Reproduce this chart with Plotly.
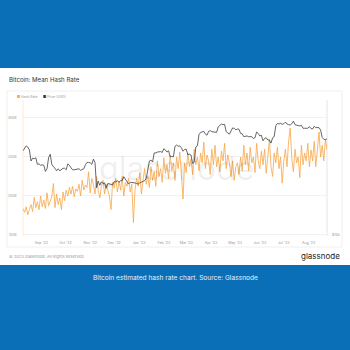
import pandas as pd
import plotly.graph_objects as go

# Daily series sampled every second day, 9 Aug 2022 -> 24 Aug 2023
dates = pd.date_range("2022-08-09", periods=191, freq="2D")

# Mean hash rate (EH/s)
hash_rate = [
    168, 158, 172, 152, 165, 178, 160, 196, 170, 185,
    165, 200, 172, 190, 168, 208, 175, 185, 198, 232,
    170, 205, 178, 195, 165, 210, 188, 215, 200, 222,
    205, 225, 198, 218, 212, 230, 200, 240, 215, 228,
    222, 262, 208, 245, 230, 205, 250, 215, 195, 225,
    240, 205, 230, 215, 200, 165, 235, 220, 245, 210,
    238, 215, 250, 200, 235, 225, 245, 210, 230, 132,
    215, 245, 225, 260, 205, 240, 270, 230, 250, 222,
    275, 240, 262, 225, 290, 250, 270, 235, 298, 258,
    280, 245, 305, 265, 285, 240, 300, 270, 312, 255,
    192, 285, 260, 310, 275, 295, 255, 320, 280, 300,
    265, 310, 285, 338, 270, 305, 290, 255, 320, 280,
    330, 275, 300, 262, 315, 290, 335, 270, 305, 285,
    250, 290, 240, 275, 285, 255, 300, 265, 330, 280,
    310, 265, 325, 285, 300, 260, 335, 290, 270, 315,
    280, 320, 258, 300, 345, 275, 250, 310, 285, 325,
    270, 300, 233, 290, 320, 275, 340, 374, 295, 262,
    320, 285, 300, 247, 330, 280, 310, 290, 335, 275,
    318, 290, 340, 275, 325, 364, 300, 330, 290, 345, 318,
]

# BTC price (thousand USD)
price_k = [
    23.2, 24.0, 24.4, 24.1, 23.4, 20.9, 21.5, 21.4, 21.6, 20.2,
    20.3, 20.0, 20.1, 20.0, 18.8, 19.3, 21.6, 22.4, 20.2, 19.7,
    19.4, 18.9, 19.3, 18.9, 19.2, 19.4, 19.4, 19.1, 20.3, 20.0,
    19.5, 19.1, 19.1, 19.2, 19.3, 19.3, 19.0, 19.2, 19.3, 20.1,
    20.6, 20.6, 20.5, 20.2, 21.3, 20.6, 15.9, 17.0, 16.3, 16.9,
    16.6, 16.7, 15.8, 16.6, 16.5, 16.5, 16.4, 16.9, 16.9, 17.1,
    16.8, 17.1, 17.1, 17.8, 17.4, 16.8, 16.5, 16.8, 16.8, 16.8,
    16.7, 16.6, 16.5, 16.7, 16.8, 16.9, 17.1, 17.4, 18.8, 20.9,
    21.1, 20.7, 22.7, 22.7, 22.9, 23.0, 23.0, 22.8, 23.7, 23.4,
    22.9, 23.2, 21.8, 21.9, 21.8, 24.3, 24.6, 24.3, 24.4, 23.9,
    23.1, 23.5, 23.6, 22.3, 22.4, 22.2, 20.4, 20.6, 24.1, 24.4,
    27.4, 28.0, 28.2, 28.3, 27.5, 27.2, 28.3, 28.5, 28.2, 28.2,
    28.0, 28.0, 29.6, 30.0, 30.5, 30.3, 30.4, 28.2, 27.8, 27.5,
    28.4, 29.3, 29.2, 28.7, 29.0, 28.9, 27.7, 27.6, 26.8, 26.9,
    27.0, 26.8, 26.9, 26.8, 26.3, 26.5, 28.1, 27.7, 27.0, 27.2,
    25.7, 26.3, 26.5, 25.9, 25.9, 25.1, 26.5, 26.8, 30.0, 30.7,
    30.5, 30.7, 30.4, 30.6, 31.1, 30.5, 30.3, 30.2, 30.6, 31.4,
    30.3, 30.1, 29.9, 29.9, 30.1, 29.2, 29.2, 29.3, 29.2, 29.7,
    29.1, 29.0, 29.8, 29.4, 29.4, 29.4, 28.7, 26.6, 26.1, 26.0, 26.2,
]
price = [p * 1000 for p in price_k]

month_ticks = pd.date_range("2022-09-01", "2023-08-01", freq="MS")
month_labels = ["Sep '22", "Oct '22", "Nov '22", "Dec '22", "Jan '23", "Feb '23",
                "Mar '23", "Apr '23", "May '23", "Jun '23", "Jul '23", "Aug '23"]
hash_ticks = [100, 200, 300, 400]
hash_labels = ["100E", "200E", "300E", "400E"]

W = H = 350
BLUE = "#0B6FB8"
ORANGE = "#F8A647"
FONT = "Inter"


def fx(px):
    return px / W


def fy(py):
    return 1 - py / H


fig = go.Figure()
fig.add_trace(go.Scatter(x=dates, y=hash_rate, mode="lines", name="Hash Rate",
                         line=dict(color=ORANGE, width=0.8), yaxis="y", cliponaxis=True))
fig.add_trace(go.Scatter(x=dates, y=price, mode="lines", name="Price (USD)",
                         line=dict(color="#404040", width=0.8), yaxis="y2", cliponaxis=True))

shapes = [
    # white card
    dict(type="rect", xref="paper", yref="paper", x0=0, x1=1, y0=fy(265), y1=fy(68),
         fillcolor="white", line=dict(width=0), layer="below"),
    # chart panel
    dict(type="rect", xref="paper", yref="paper", x0=fx(7), x1=fx(342), y0=fy(247), y1=fy(91),
         fillcolor="white", line=dict(color="#ececec", width=0.8), layer="below"),
    # left (hash rate) and right (price) axis rules
    dict(type="line", xref="paper", yref="paper", x0=fx(23), x1=fx(23), y0=fy(236), y1=fy(100),
         line=dict(color="#FCE3C4", width=0.8), layer="below"),
    dict(type="line", xref="paper", yref="paper", x0=fx(327), x1=fx(327), y0=fy(236), y1=fy(100),
         line=dict(color="#dedede", width=0.8), layer="below"),
]

annotations = [
    dict(text="Bitcoin: Mean Hash Rate", x=fx(7), y=fy(80), xref="paper", yref="paper",
         xanchor="left", yanchor="middle", showarrow=False,
         font=dict(family=FONT, size=6.1, color="#333333")),
    dict(text=f"<span style='color:{ORANGE}'>■</span> Hash Rate", x=fx(15), y=fy(97),
         xref="paper", yref="paper", xanchor="left", yanchor="middle", showarrow=False,
         font=dict(family=FONT, size=3.4, color="#999999")),
    dict(text="<span style='color:#333333'>■</span> Price (USD)", x=fx(41), y=fy(97),
         xref="paper", yref="paper", xanchor="left", yanchor="middle", showarrow=False,
         font=dict(family=FONT, size=3.4, color="#999999")),
    dict(text="glassnode", x=fx(176), y=fy(168), xref="paper", yref="paper",
         xanchor="center", yanchor="middle", showarrow=False,
         font=dict(family=FONT, size=32, color="rgba(0,0,0,0.07)")),
    dict(text="$10k", x=fx(330), y=fy(234), xref="paper", yref="paper",
         xanchor="left", yanchor="middle", showarrow=False,
         font=dict(family=FONT, size=3.6, color="#999999")),
    dict(text="© 2023 Glassnode. All Rights Reserved.", x=fx(7), y=fy(256),
         xref="paper", yref="paper", xanchor="left", yanchor="middle", showarrow=False,
         font=dict(family=FONT, size=4, color="#999999")),
    dict(text="glassnode", x=fx(342), y=fy(256), xref="paper", yref="paper",
         xanchor="right", yanchor="middle", showarrow=False,
         font=dict(family=FONT, size=8, color="#222222")),
    dict(text="Bitcoin estimated hash rate chart. Source: Glassnode", x=0.5, y=fy(278),
         xref="paper", yref="paper", xanchor="center", yanchor="middle", showarrow=False,
         font=dict(family=FONT, size=6.6, color="#e8f1fa")),
]

fig.update_layout(
    width=W, height=H,
    margin=dict(l=0, r=0, t=0, b=0),
    paper_bgcolor=BLUE,
    plot_bgcolor="rgba(0,0,0,0)",
    showlegend=False,
    shapes=shapes,
    annotations=annotations,
    xaxis=dict(domain=[fx(23), fx(327)], range=["2022-08-09", "2023-08-24"],
               tickvals=month_ticks, ticktext=month_labels, ticks="",
               tickfont=dict(family=FONT, size=3.6, color="#999999"),
               showgrid=False, showline=False, zeroline=False, ticklabelstandoff=3),
    yaxis=dict(domain=[fy(236), fy(100)], range=[97.4, 446],
               tickvals=hash_ticks, ticktext=hash_labels, ticks="",
               tickfont=dict(family=FONT, size=3.6, color="#999999"),
               showgrid=True, gridcolor="#f1f1f1", gridwidth=0.6,
               showline=False, zeroline=False, ticklabelstandoff=5),
    yaxis2=dict(overlaying="y", side="right", type="log", range=[3.987, 4.591],
                showticklabels=False, showgrid=False, ticks="",
                showline=False, zeroline=False),
)

fig.write_html("out.html")
